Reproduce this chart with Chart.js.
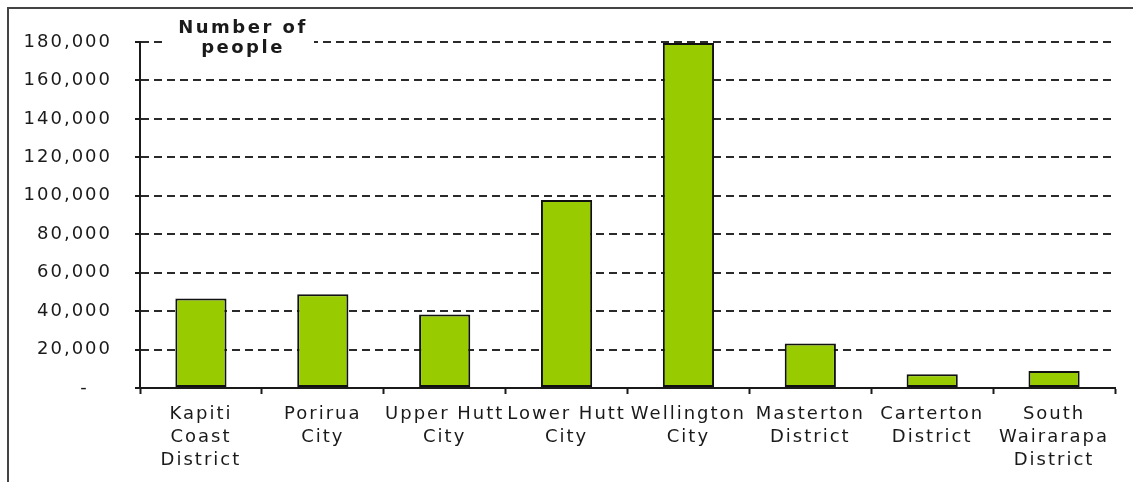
<!DOCTYPE html>
<html>
<head>
<meta charset="utf-8">
<script src="https://cdn.jsdelivr.net/npm/chart.js@4.4.1/dist/chart.umd.min.js"></script>
<style>
  html, body { margin: 0; padding: 0; background: #fff; }
  canvas { display: block; }
</style>
</head>
<body>
<canvas id="popChart" width="1133" height="482"></canvas>
<script>
// Population by territorial authority, Wellington region
const districts = [
    ['Kapiti', 'Coast', 'District'],
    ['Porirua', 'City'],
    ['Upper Hutt', 'City'],
    ['Lower Hutt', 'City'],
    ['Wellington', 'City'],
    ['Masterton', 'District'],
    ['Carterton', 'District'],
    ['South', 'Wairarapa', 'District']
];
const population = [46500, 48800, 38300, 97800, 179500, 23200, 7200, 8900];
const yMax = 180000;
const yStep = 20000;
const axisTitle = ['Number of', 'people'];

const FONT = 'DejaVu Sans';
const INK = '#1a1a1a';

// canvas letter spacing to get the wide Verdana look; plus the frame and the y title box
const decor = {
    id: 'decor',
    beforeUpdate(chart) { chart.ctx.letterSpacing = '2px'; },
    beforeDraw(chart) { chart.ctx.letterSpacing = '2px'; },
    afterDraw(chart) {
        const c = chart.ctx;
        c.save();
        // frame (top and left edges only)
        c.strokeStyle = '#444';
        c.lineWidth = 2;
        c.beginPath();
        c.moveTo(8, 482);
        c.lineTo(8, 8);
        c.lineTo(1133, 8);
        c.stroke();
        // title box over the top gridline
        c.fillStyle = '#fff';
        c.fillRect(164, 14, 150, 44);
        c.fillStyle = INK;
        c.font = 'bold 18px "' + FONT + '"';
        c.letterSpacing = '2.5px';
        c.textAlign = 'center';
        c.textBaseline = 'alphabetic';
        c.fillText(axisTitle[0], 243, 33);
        c.fillText(axisTitle[1], 243, 53);
        c.restore();
    }
};

new Chart(document.getElementById('popChart').getContext('2d'), {
    type: 'bar',
    data: {
        labels: districts,
        datasets: [{
            data: population,
            backgroundColor: '#99cc00',
            borderColor: '#111',
            borderWidth: 2,
            borderSkipped: false,
            categoryPercentage: 1.0,
            barPercentage: 0.42
        }]
    },
    options: {
        responsive: false,
        animation: false,
        layout: { padding: { top: 42, right: 18, left: 0, bottom: 0 } },
        plugins: {
            legend: { display: false },
            tooltip: { enabled: false }
        },
        scales: {
            x: {
                grid: { offset: true, drawOnChartArea: false, tickLength: 6, tickWidth: 2, tickColor: INK },
                border: { color: INK, width: 2 },
                ticks: {
                    color: INK,
                    font: { family: FONT, size: 18, lineHeight: 1.28 },
                    maxRotation: 0,
                    minRotation: 0,
                    autoSkip: false,
                    padding: 9
                },
                afterFit: s => { s.height = 94; }
            },
            y: {
                min: 0,
                max: yMax,
                ticks: {
                    stepSize: yStep,
                    padding: 23,
                    color: INK,
                    font: { family: FONT, size: 18 },
                    callback: v => v === 0 ? '-   ' : v.toLocaleString('en-US')
                },
                grid: { color: '#2a2a2a', lineWidth: 2, tickLength: 5, tickColor: INK, tickWidth: 2 },
                border: { color: INK, width: 2, dash: [8, 5] },
                afterFit: s => { s.width = 140; }
            }
        }
    },
    plugins: [decor]
});
</script>
</body>
</html>
